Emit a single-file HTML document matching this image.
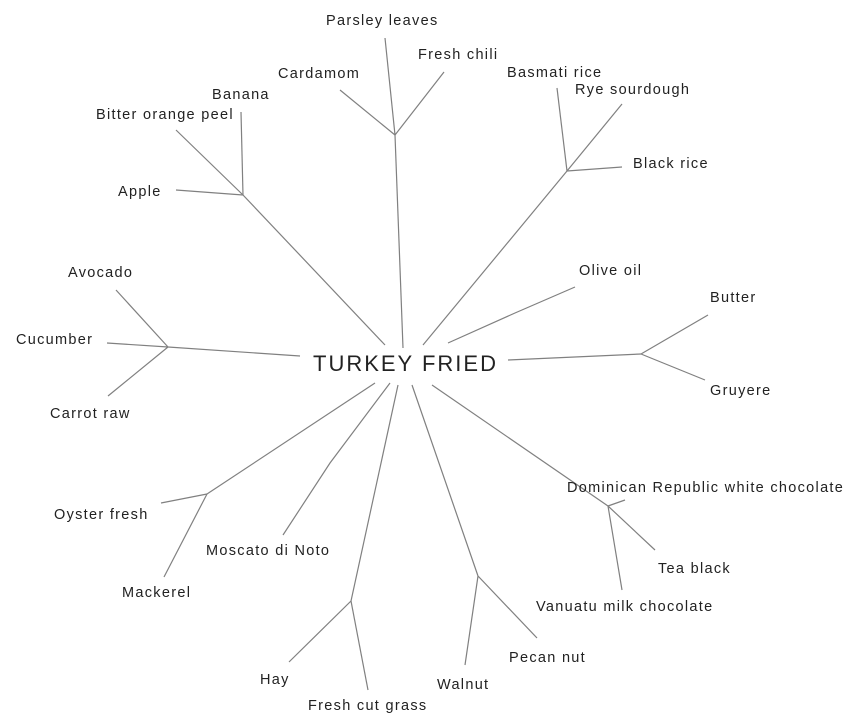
<!DOCTYPE html>
<html><head><meta charset="utf-8"><style>
html,body{margin:0;padding:0;background:#fff;}
svg{display:block}
text{font-family:"Liberation Sans",Arial,sans-serif;font-size:14.5px;fill:#222;letter-spacing:1.3px}
line,polyline{stroke:#808080;stroke-width:1.2;fill:none}
</style></head><body>
<svg width="864" height="726" viewBox="0 0 864 726" xmlns="http://www.w3.org/2000/svg">
<line x1="403" y1="348" x2="395" y2="135"/>
<line x1="395" y1="135" x2="385" y2="38"/>
<line x1="395" y1="135" x2="444" y2="72"/>
<line x1="395" y1="135" x2="340" y2="90"/>
<text x="326" y="25">Parsley leaves</text>
<text x="418" y="59">Fresh chili</text>
<text x="278" y="78">Cardamom</text>
<line x1="423" y1="345" x2="567" y2="171"/>
<line x1="567" y1="171" x2="557" y2="88"/>
<line x1="567" y1="171" x2="622" y2="104"/>
<line x1="567" y1="171" x2="622" y2="167"/>
<text x="507" y="77">Basmati rice</text>
<text x="575" y="94">Rye sourdough</text>
<text x="633" y="168">Black rice</text>
<line x1="385" y1="345" x2="243" y2="195"/>
<line x1="243" y1="195" x2="241" y2="112"/>
<line x1="243" y1="195" x2="176" y2="130"/>
<line x1="243" y1="195" x2="176" y2="190"/>
<text x="212" y="99">Banana</text>
<text x="96" y="119">Bitter orange peel</text>
<text x="118" y="196">Apple</text>
<line x1="300" y1="356" x2="168" y2="347"/>
<line x1="168" y1="347" x2="116" y2="290"/>
<line x1="168" y1="347" x2="107" y2="343"/>
<line x1="168" y1="347" x2="108" y2="396"/>
<text x="68" y="277">Avocado</text>
<text x="16" y="344">Cucumber</text>
<text x="50" y="418">Carrot raw</text>
<polyline points="448,343 515,313 575,287"/>
<text x="579" y="275">Olive oil</text>
<line x1="508" y1="360" x2="641" y2="354"/>
<line x1="641" y1="354" x2="708" y2="315"/>
<line x1="641" y1="354" x2="705" y2="380"/>
<text x="710" y="302">Butter</text>
<text x="710" y="395">Gruyere</text>
<line x1="375" y1="383" x2="207" y2="494"/>
<line x1="207" y1="494" x2="161" y2="503"/>
<line x1="207" y1="494" x2="164" y2="577"/>
<text x="54" y="519">Oyster fresh</text>
<text x="122" y="597">Mackerel</text>
<polyline points="390,383 330,463 283,535"/>
<text x="206" y="555">Moscato di Noto</text>
<line x1="398" y1="385" x2="351" y2="601"/>
<line x1="351" y1="601" x2="289" y2="662"/>
<line x1="351" y1="601" x2="368" y2="690"/>
<text x="260" y="684">Hay</text>
<text x="308" y="710">Fresh cut grass</text>
<line x1="412" y1="385" x2="478" y2="576"/>
<line x1="478" y1="576" x2="465" y2="665"/>
<line x1="478" y1="576" x2="537" y2="638"/>
<text x="437" y="689">Walnut</text>
<text x="509" y="662">Pecan nut</text>
<line x1="432" y1="385" x2="608" y2="506"/>
<line x1="608" y1="506" x2="625" y2="500"/>
<line x1="608" y1="506" x2="655" y2="550"/>
<line x1="608" y1="506" x2="622" y2="590"/>
<text x="567" y="492">Dominican Republic white chocolate</text>
<text x="658" y="573">Tea black</text>
<text x="536" y="611">Vanuatu milk chocolate</text>
<text x="313" y="371" style="font-size:22px;letter-spacing:2px">TURKEY FRIED</text>
</svg>
</body></html>
